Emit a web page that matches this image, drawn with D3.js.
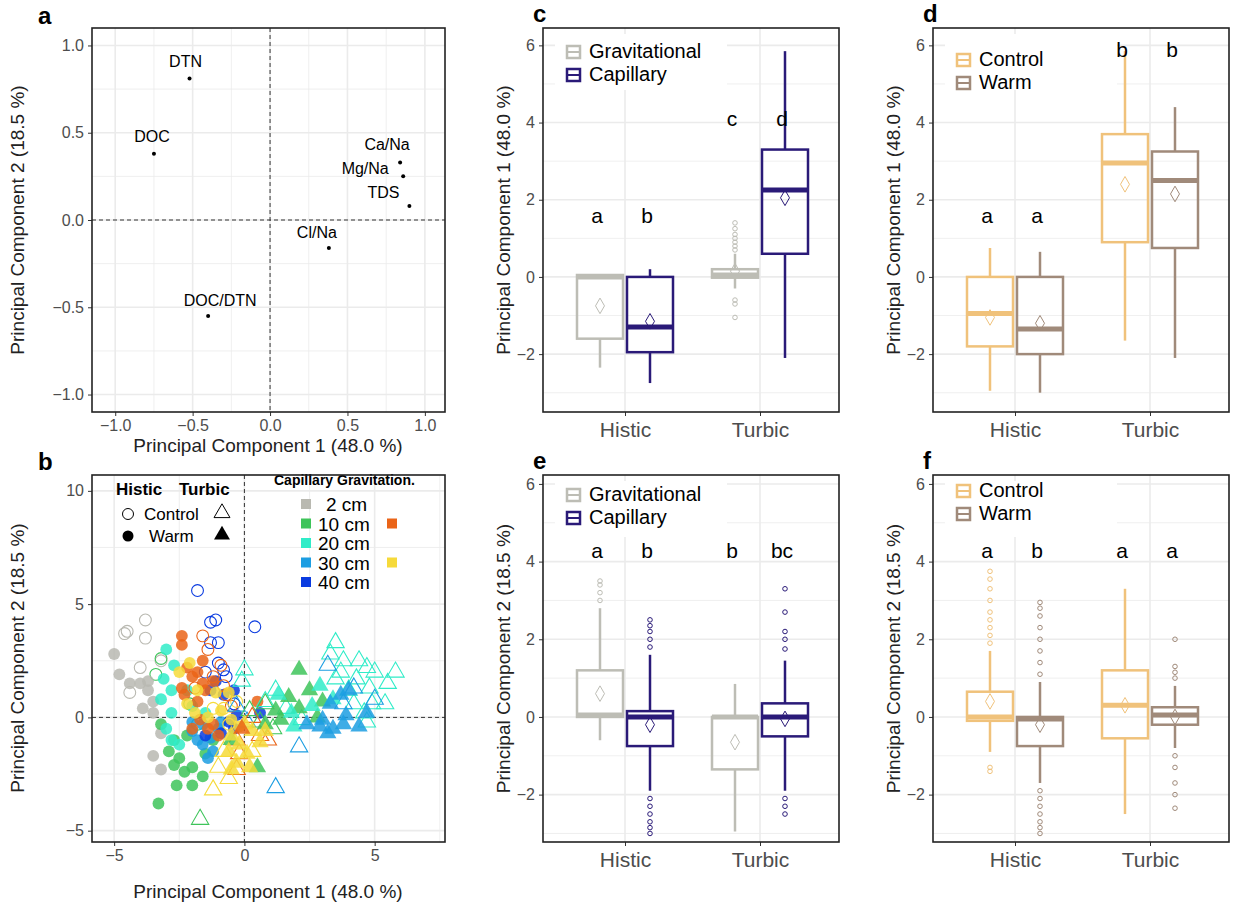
<!DOCTYPE html>
<html><head><meta charset="utf-8">
<script src="https://cdn.jsdelivr.net/npm/d3@7"></script>
<style>body{margin:0;background:#fff}text{font-family:"Liberation Sans",Arial,sans-serif}</style>
</head><body><svg id="c" width="1245" height="911"></svg>
<script>
// ---- data ----
const loadingNames = ["DTN","DOC","Ca/Na","Mg/Na","TDS","Cl/Na","DOC/DTN"];
const loadingX = [-0.52,-0.75,0.84,0.86,0.90,0.38,-0.40];
const loadingY = [0.81,0.38,0.33,0.25,0.08,-0.16,-0.55];
const labelDx = [-4,-2,-13,-38,-26,-12,12];
const labelDy = [-12,-12,-12,-2,-8,-10,-10];

const colors = {g2:"#b9b9b1",g10:"#3ec45a",g20:"#30ecc8",g30:"#1c9ee2",g40:"#0a3be0",o10:"#ea6418",y30:"#f6da3a"};
// [color, shape, filled, points]
const scoreGroups = [
  ["g2","circle",false,[[-4.5,3.8],[-3.8,4.3],[-3.8,3.5],[-4.0,2.2],[-4.4,1.1],[-3.2,2.5],[-4.6,3.7]]],
  ["g10","circle",false,[[-3.2,2.6],[-3.4,1.9],[-2.1,0.6],[-1.8,-0.3]]],
  ["g40","circle",false,[[-1.8,5.6],[-1.3,4.2],[-1.1,4.3],[0.4,4.0],[-1.0,3.3],[-1.3,3.3],[-1.0,2.4],[-0.8,2.1],[-1.5,2.0],[-0.7,1.8],[-0.4,0.6]]],
  ["g2","circle",true,[[-5.0,2.8],[-4.8,1.9],[-4.4,1.5],[-4.0,1.5],[-3.7,1.6],[-3.7,1.2],[-3.9,0.4],[-3.5,0.2],[-3.2,-0.7],[-3.5,-1.7],[-3.2,-2.3],[-3.5,0.7]]],
  ["g10","circle",true,[[-3.2,-0.3],[-2.7,-1.0],[-2.9,-1.5],[-2.5,-1.8],[-2.3,-2.4],[-2.7,-2.1],[-2.0,-2.2],[-2.0,-3.0],[-2.6,-3.0],[-3.3,-3.8],[-1.6,-2.6],[-1.5,-1.6],[-1.2,-1.0],[-2.2,-0.8]]],
  ["g20","circle",true,[[-3.0,3.0],[-2.7,2.3],[-3.1,1.7],[-2.8,1.2],[-3.2,0.8],[-2.8,0.2],[-2.0,0.5],[-3.0,-0.5],[-2.5,-1.2],[-2.2,1.2],[-1.5,0.2],[-2.8,-1.0]]],
  ["g30","circle",true,[[-2.0,-0.6],[-1.6,-0.3],[-1.3,-0.9],[-1.2,-1.5],[-1.6,-1.2],[-1.8,-1.0],[-1.0,-0.5],[-1.4,-1.8],[-2.0,-0.2],[-0.9,-0.2]]],
  ["g40","circle",true,[[-1.1,1.6],[-1.3,1.2],[-0.8,1.0],[-0.4,1.2],[-0.9,-0.7],[-0.6,-0.2],[-0.3,0.1],[0.6,0.2],[-1.5,-0.8],[-0.4,-0.5]]],
  ["o10","circle",true,[[-2.4,3.6],[-2.4,3.2],[-1.6,2.5],[-1.8,2.0],[-2.2,2.2],[-2.0,1.8],[-2.4,1.3],[-1.2,1.6],[-1.5,1.2],[-1.8,0.7],[-1.7,-0.1],[-2.0,-0.5],[-1.2,-0.3],[-1.0,-0.8],[-1.4,-0.5],[0.5,0.7],[-1.6,1.5],[-2.3,1.0]]],
  ["o10","circle",false,[[-1.6,3.6],[-1.4,3.0],[-0.9,2.3],[-1.2,1.8],[-0.8,1.4],[-0.5,0.5],[-0.7,1.0],[-1.9,1.3]]],
  ["y30","circle",true,[[-2.1,2.4],[-2.5,2.0],[-1.8,1.2],[-1.1,1.1],[-0.6,1.1],[-0.9,0.3],[-0.5,-0.1],[-1.9,0.2],[-2.2,0.6],[-0.2,-0.4],[-1.4,0.0]]],
  ["y30","circle",false,[[-0.8,0.4],[-0.3,0.7],[-1.2,0.4],[-0.6,-0.3]]],
  ["g20","triangle",false,[[3.5,3.3],[3.3,2.8],[3.8,2.5],[4.4,2.5],[3.7,2.0],[4.7,2.2],[5.0,2.0],[5.8,2.0],[5.5,1.5],[4.3,1.7],[3.5,1.7],[4.0,1.2],[4.8,1.3],[4.2,0.6],[4.9,0.6],[5.4,0.6],[4.6,0.2],[0.0,2.1],[-0.1,1.6],[1.2,1.2],[0.8,0.7],[1.6,0.4],[2.2,-0.1],[4.7,-0.2]]],
  ["g30","triangle",false,[[3.2,2.3],[4.2,1.3],[3.8,0.6],[5.0,0.8],[1.2,-3.1],[2.1,-1.3],[-0.3,0.5],[0.1,-0.2]]],
  ["g10","triangle",false,[[0.8,0.6],[0.2,0.3],[1.1,-0.5],[-1.7,-4.5],[0.6,-0.2]]],
  ["o10","triangle",false,[[0.3,0.0],[0.6,-0.8],[0.9,-1.0],[-0.3,-1.0],[-0.2,-1.6],[-0.3,-2.3]]],
  ["y30","triangle",false,[[-1.0,-2.2],[-1.2,-3.2],[-0.6,-2.7],[0.3,-1.5],[-0.8,-1.5]]],
  ["g10","triangle",true,[[1.2,0.3],[2.5,1.2],[3.0,0.7],[2.8,0.0],[1.4,-0.1],[0.8,-0.3],[-0.5,-1.0],[0.5,-2.2],[1.7,0.9],[2.1,0.4],[2.1,2.1]]],
  ["g20","triangle",true,[[1.3,1.0],[1.8,0.2],[1.9,-0.4],[2.6,0.5],[3.4,0.8],[2.9,1.4]]],
  ["g30","triangle",true,[[2.4,-0.3],[2.9,-0.4],[3.4,-0.5],[3.8,-0.3],[4.4,-0.4],[3.0,-0.1],[3.9,0.1],[4.7,0.2],[3.3,0.6],[4.0,1.2],[3.2,-0.7],[3.7,1.0]]],
  ["y30","triangle",true,[[-0.5,-0.8],[-0.2,-1.2],[0.1,-1.6],[-0.6,-1.5],[0.3,-0.6],[0.0,-0.3],[-0.3,-2.0],[0.6,-1.1],[0.2,-2.2],[-0.5,-2.3],[0.8,-0.6]]],
  ["o10","triangle",true,[[-0.1,-0.5]]]
];

const soils = ["Histic","Turbic"];
// box stats: [soil, group, lowWhisk, q1, median, q3, highWhisk, mean, outliers]
const boxC = [
  ["Histic",0,-2.35,-1.6,0.0,0.05,0.05,-0.75,[]],
  ["Histic",1,-2.75,-1.95,-1.3,0.0,0.2,-1.15,[]],
  ["Turbic",0,-0.3,-0.02,0.05,0.2,0.6,0.15,[0.7,0.8,0.9,1.0,1.1,1.25,1.4,-0.6,-0.7,-1.05]],
  ["Turbic",1,-2.1,0.6,2.25,3.3,5.85,2.05,[]]
];
const boxD = [
  ["Histic",0,-2.95,-1.8,-0.95,0.0,0.75,-1.05,[]],
  ["Histic",1,-3.0,-2.0,-1.35,0.0,0.65,-1.2,[]],
  ["Turbic",0,-1.65,0.9,2.95,3.7,5.85,2.4,[]],
  ["Turbic",1,-2.1,0.75,2.5,3.25,4.4,2.15,[]]
];
const boxE = [
  ["Histic",0,-0.6,0.0,0.05,1.2,2.8,0.6,[3.0,3.2,3.4,3.5]],
  ["Histic",1,-1.9,-0.75,0.0,0.15,1.6,-0.2,[1.8,2.0,2.2,2.35,2.5,-2.1,-2.3,-2.5,-2.7,-2.85,-3.0]],
  ["Turbic",0,-2.95,-1.35,0.0,0.0,0.85,-0.65,[]],
  ["Turbic",1,-1.9,-0.5,0.0,0.35,1.45,-0.05,[1.75,2.0,2.2,2.7,3.3,-2.1,-2.3,-2.5]]
];
const boxF = [
  ["Histic",0,-0.9,-0.1,0.0,0.65,1.7,0.4,[1.9,2.1,2.3,2.5,2.7,3.0,3.3,3.55,3.75,-1.3,-1.4]],
  ["Histic",1,-1.7,-0.75,-0.05,0.0,0.9,-0.2,[1.1,1.4,1.7,2.0,2.3,2.6,2.8,2.95,-1.9,-2.1,-2.3,-2.5,-2.7,-2.85,-3.0]],
  ["Turbic",0,-2.5,-0.55,0.3,1.2,3.3,0.3,[]],
  ["Turbic",1,-0.8,-0.2,0.05,0.25,0.8,0.0,[1.0,1.15,1.3,2.0,-1.0,-1.3,-1.7,-2.0,-2.35]]
];
const lettersC = [["Histic",0,1.4,"a"],["Histic",1,1.4,"b"],["Turbic",0,3.9,"c"],["Turbic",1,3.9,"d"]];
const lettersD = [["Histic",0,1.4,"a"],["Histic",1,1.4,"a"],["Turbic",0,5.7,"b"],["Turbic",1,5.7,"b"]];
const lettersE = [["Histic",0,4.1,"a"],["Histic",1,4.1,"b"],["Turbic",0,4.1,"b"],["Turbic",1,4.1,"bc"]];
const lettersF = [["Histic",0,4.1,"a"],["Histic",1,4.1,"b"],["Turbic",0,4.1,"a"],["Turbic",1,4.1,"a"]];
const waterNames = ["Gravitational","Capillary"], waterCols = ["#bdbdb5","#2a1a78"];
const treatNames = ["Control","Warm"], treatCols = ["#f0c27b","#a08a7a"];

const svg = d3.select("#c");
const GRID = "#ebebeb", TICK = "#4d4d4d";

function frame(x0,y0,w,h,xs,ys,xt,yt,xminor,yminor,vgrid){
  const g = svg.append("g");
  if (xminor) g.selectAll(null).data(xminor).enter().append("line")
    .attr("x1",d=>xs(d)).attr("x2",d=>xs(d)).attr("y1",y0).attr("y2",y0+h).attr("stroke",GRID).attr("stroke-width",0.8);
  if (yminor) g.selectAll(null).data(yminor).enter().append("line")
    .attr("y1",d=>ys(d)).attr("y2",d=>ys(d)).attr("x1",x0).attr("x2",x0+w).attr("stroke",GRID).attr("stroke-width",0.8);
  g.selectAll(null).data(vgrid||xt).enter().append("line")
    .attr("x1",d=>xs(d)).attr("x2",d=>xs(d)).attr("y1",y0).attr("y2",y0+h).attr("stroke",GRID).attr("stroke-width",1.6);
  g.selectAll(null).data(yt).enter().append("line")
    .attr("y1",d=>ys(d)).attr("y2",d=>ys(d)).attr("x1",x0).attr("x2",x0+w).attr("stroke",GRID).attr("stroke-width",1.6);
  return g;
}
function axes(x0,y0,w,h,xs,ys,xt,yt,fmtX,fmtY,xsize){
  const g = svg.append("g");
  g.append("g").attr("transform",`translate(0,${y0+h})`).call(d3.axisBottom(xs).tickValues(xt).tickFormat(fmtX).tickSize(4).tickPadding(xsize?6:4))
    .call(a=>{a.select(".domain").remove();a.selectAll("line").attr("stroke","#333");a.selectAll("text").attr("fill",TICK).style("font-size",(xsize||16)+"px");});
  g.append("g").attr("transform",`translate(${x0},0)`).call(d3.axisLeft(ys).tickValues(yt).tickFormat(fmtY).tickSize(4).tickPadding(4))
    .call(a=>{a.select(".domain").remove();a.selectAll("line").attr("stroke","#333");a.selectAll("text").attr("fill",TICK).style("font-size","16px");});
  g.append("rect").attr("x",x0).attr("y",y0).attr("width",w).attr("height",h).attr("fill","none").attr("stroke","#222").attr("stroke-width",1.6);
}
function titles(label,lx,ly,xtitle,xtx,xty,ytitle,ytx,yty){
  svg.append("text").attr("x",lx).attr("y",ly).attr("font-size",24).attr("font-weight","bold").text(label);
  if (xtitle) svg.append("text").attr("x",xtx).attr("y",xty).attr("text-anchor","middle").attr("font-size",19).attr("fill","#222").text(xtitle);
  svg.append("text").attr("transform",`translate(${ytx},${yty}) rotate(-90)`).attr("text-anchor","middle").attr("font-size",19).attr("fill","#222").text(ytitle);
}
const pc1 = "Principal Component 1 (48.0 %)", pc2 = "Principal Component 2 (18.5 %)";
const minus = d => String(d).replace("-","\u2212");

// ---- panel a ----
{
  const x0=92,y0=28,w=353,h=384;
  const xs=d3.scaleLinear().domain([-1.15,1.13]).range([x0,x0+w]);
  const ys=d3.scaleLinear().domain([-1.1,1.1]).range([y0+h,y0]);
  const xt=[-1,-0.5,0,0.5,1], yt=[-1,-0.5,0,0.5,1];
  frame(x0,y0,w,h,xs,ys,xt,yt,[-0.75,-0.25,0.25,0.75],[-0.75,-0.25,0.25,0.75]);
  const g=svg.append("g");
  g.append("line").attr("x1",xs(0)).attr("x2",xs(0)).attr("y1",y0).attr("y2",y0+h).attr("stroke","#333").attr("stroke-dasharray","4,3");
  g.append("line").attr("y1",ys(0)).attr("y2",ys(0)).attr("x1",x0).attr("x2",x0+w).attr("stroke","#333").attr("stroke-dasharray","4,3");
  loadingNames.forEach((n,i)=>{
    g.append("circle").attr("cx",xs(loadingX[i])).attr("cy",ys(loadingY[i])).attr("r",2).attr("fill","#000");
    g.append("text").attr("x",xs(loadingX[i])+labelDx[i]).attr("y",ys(loadingY[i])+labelDy[i]).attr("text-anchor","middle").attr("font-size",16).text(n);
  });
  axes(x0,y0,w,h,xs,ys,xt,yt,d=>minus(d.toFixed(1)),d=>minus(d.toFixed(1)));
  titles("a",38,24,pc1,268,452,pc2,24,220);
}
// ---- panel b ----
{
  const x0=92,y0=475,w=353,h=367;
  const xs=d3.scaleLinear().domain([-5.85,7.7]).range([x0,x0+w]);
  const ys=d3.scaleLinear().domain([-5.5,10.7]).range([y0+h,y0]);
  const xt=[-5,0,5], yt=[-5,0,5,10];
  frame(x0,y0,w,h,xs,ys,xt,yt,[-2.5,2.5,7.5],[-2.5,2.5,7.5]);
  const g=svg.append("g");
  g.append("line").attr("x1",xs(0)).attr("x2",xs(0)).attr("y1",y0).attr("y2",y0+h).attr("stroke","#333").attr("stroke-dasharray","4,3");
  g.append("line").attr("y1",ys(0)).attr("y2",ys(0)).attr("x1",x0).attr("x2",x0+w).attr("stroke","#333").attr("stroke-dasharray","4,3");
  const tri=d3.symbol().type(d3.symbolTriangle).size(130), cir=d3.symbol().type(d3.symbolCircle).size(110);
  scoreGroups.forEach(([c,shape,filled,pts])=>{
    g.selectAll(null).data(pts).enter().append("path")
      .attr("d",shape==="circle"?cir:tri)
      .attr("transform",d=>`translate(${xs(d[0])},${ys(d[1])})`)
      .attr("fill",filled?colors[c]:"none").attr("fill-opacity",filled?0.85:1)
      .attr("stroke",colors[c]).attr("stroke-width",filled?0:1.1);
  });
  // legend
  const L=svg.append("g");
  L.append("text").attr("x",116).attr("y",495).attr("font-size",17).attr("font-weight","bold").text("Histic");
  L.append("text").attr("x",179).attr("y",495).attr("font-size",17).attr("font-weight","bold").text("Turbic");
  L.append("circle").attr("cx",128).attr("cy",514).attr("r",5.5).attr("fill","none").attr("stroke","#000");
  L.append("text").attr("x",144).attr("y",520).attr("font-size",17).text("Control");
  L.append("path").attr("d",d3.symbol().type(d3.symbolTriangle).size(110)).attr("transform","translate(222,513)").attr("fill","none").attr("stroke","#000");
  L.append("circle").attr("cx",128).attr("cy",536).attr("r",5.5).attr("fill","#000");
  L.append("text").attr("x",149).attr("y",542).attr("font-size",17).text("Warm");
  L.append("path").attr("d",d3.symbol().type(d3.symbolTriangle).size(110)).attr("transform","translate(222,535)").attr("fill","#000");
  L.append("text").attr("x",274).attr("y",485).attr("font-size",14).attr("font-weight","bold").text("Capillary Gravitation.");
  const depth=["2 cm","10 cm","20 cm","30 cm","40 cm"], dcol=["g2","g10","g20","g30","g40"], gcol=[null,"o10",null,"y30",null];
  depth.forEach((d,i)=>{
    const y=505+i*19.5;
    L.append("rect").attr("x",301).attr("y",y-6).attr("width",10).attr("height",10).attr("fill",colors[dcol[i]]);
    L.append("text").attr("x",i===0?326:318).attr("y",y+6).attr("font-size",19).text(d);
    if (gcol[i]) L.append("rect").attr("x",387).attr("y",y-6).attr("width",10).attr("height",10).attr("fill",colors[gcol[i]]);
  });
  axes(x0,y0,w,h,xs,ys,xt,yt,minus,minus);
  titles("b",38,470,pc1,268,898,pc2,24,658);
}
// ---- box panels ----
function boxPanel(x0,y0,h,boxes,letters,names,cols,label,ytitle,ydom,legendY){
  const w=296;
  const xs=d3.scalePoint().domain(soils).range([x0+82,x0+217]);
  const ys=d3.scaleLinear().domain(ydom).range([y0+h,y0]);
  const yt=[-2,0,2,4,6];
  frame(x0,y0,w,h,xs,ys,soils,yt,null,[-3,-1,1,3,5],soils);
  const off=d3.scaleBand().domain([0,1]).range([-48,48]).paddingInner(0.08);
  const bx=(s,k)=>xs(s)+off(k);
  const bw=off.bandwidth();
  const g=svg.append("g");
  g.append("rect").attr("x",x0+12).attr("y",y0+6).attr("width",172).attr("height",56).attr("fill","#fff");
  boxes.forEach(([s,k,lo,q1,md,q3,hi,mn,out])=>{
    const c=cols[k], cx=bx(s,k)+bw/2;
    g.append("line").attr("x1",cx).attr("x2",cx).attr("y1",ys(lo)).attr("y2",ys(q1)).attr("stroke",c).attr("stroke-width",2.5);
    g.append("line").attr("x1",cx).attr("x2",cx).attr("y1",ys(q3)).attr("y2",ys(hi)).attr("stroke",c).attr("stroke-width",2.5);
    g.append("rect").attr("x",bx(s,k)).attr("width",bw).attr("y",ys(q3)).attr("height",Math.max(1,ys(q1)-ys(q3)))
      .attr("fill","none").attr("stroke",c).attr("stroke-width",2.5);
    g.append("line").attr("x1",bx(s,k)).attr("x2",bx(s,k)+bw).attr("y1",ys(md)).attr("y2",ys(md)).attr("stroke",c).attr("stroke-width",5);
    g.selectAll(null).data(out).enter().append("circle").attr("cx",cx).attr("cy",d=>ys(d)).attr("r",2.3)
      .attr("fill","none").attr("stroke",c).attr("stroke-width",1);
    g.append("path").attr("d",d3.symbol().type(d3.symbolDiamond).size(70)).attr("transform",`translate(${cx},${ys(mn)})`)
      .attr("fill","none").attr("stroke",c).attr("stroke-width",1);
  });
  letters.forEach(([s,k,v,t])=>g.append("text").attr("x",bx(s,k)+bw/2-3).attr("y",ys(v)).attr("text-anchor","middle").attr("font-size",21).text(t));
  names.forEach((n,i)=>{
    const y=y0+legendY+i*23;
    g.append("rect").attr("x",x0+24).attr("y",y-6).attr("width",13).attr("height",12).attr("fill","#fff").attr("stroke",cols[i]).attr("stroke-width",2.5);
    g.append("line").attr("x1",x0+24).attr("x2",x0+37).attr("y1",y).attr("y2",y).attr("stroke",cols[i]).attr("stroke-width",2);
    g.append("text").attr("x",x0+46).attr("y",y+6).attr("font-size",20).text(n);
  });
  axes(x0,y0,w,h,xs,ys,soils,yt,d=>d,minus,21);
  titles(label,x0-10,y0-6,null,0,0,ytitle,x0-33,y0+h/2);
}
boxPanel(543,28,384,boxC,lettersC,waterNames,waterCols,"c",pc1,[-3.5,6.45],24);
boxPanel(933,28,384,boxD,lettersD,treatNames,treatCols,"d",pc1,[-3.5,6.45],32);
boxPanel(543,475,367,boxE,lettersE,waterNames,waterCols,"e",pc2,[-3.22,6.23],20);
boxPanel(933,475,367,boxF,lettersF,treatNames,treatCols,"f",pc2,[-3.22,6.23],16);
</script></body></html>
